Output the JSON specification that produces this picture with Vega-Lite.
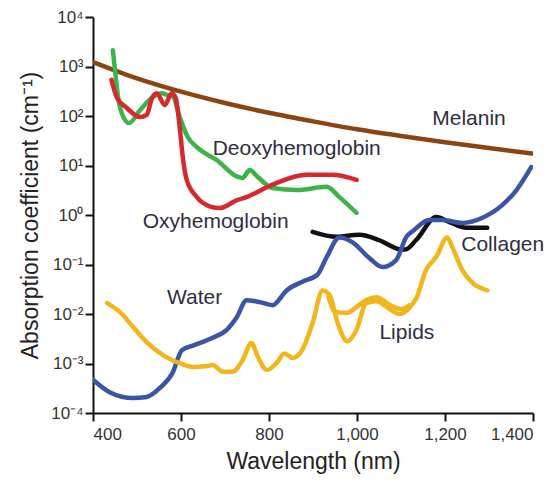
{
  "$schema": "https://vega.github.io/schema/vega-lite/v6.json",
  "width": 440,
  "height": 396,
  "autosize": {"type": "none"},
  "padding": {"left": 93, "top": 17, "right": 25, "bottom": 80},
  "background": "white",
  "config": {
    "view": {"stroke": null},
    "font": "Liberation Sans",
    "axis": {
      "grid": false,
      "domainColor": "#111",
      "domainWidth": 2,
      "tickColor": "#111",
      "tickWidth": 2,
      "tickSize": 8,
      "labelFontSize": 17,
      "labelColor": "#333",
      "labelFont": "Liberation Sans",
      "titleFont": "Liberation Sans",
      "titleFontSize": 23,
      "titleFontWeight": "normal",
      "titleColor": "#222"
    }
  },
  "datasets": {
    "curves": [
      {"s": "Melanin", "nm": 400, "v": 1230},
      {"s": "Melanin", "nm": 500, "v": 576},
      {"s": "Melanin", "nm": 600, "v": 310},
      {"s": "Melanin", "nm": 700, "v": 183},
      {"s": "Melanin", "nm": 800, "v": 116},
      {"s": "Melanin", "nm": 900, "v": 78},
      {"s": "Melanin", "nm": 1000, "v": 54},
      {"s": "Melanin", "nm": 1100, "v": 39.6},
      {"s": "Melanin", "nm": 1200, "v": 29.6},
      {"s": "Melanin", "nm": 1300, "v": 22.5},
      {"s": "Melanin", "nm": 1400, "v": 17.4},

      {"s": "Deoxyhemoglobin", "nm": 445, "v": 2140},
      {"s": "Deoxyhemoglobin", "nm": 451, "v": 700},
      {"s": "Deoxyhemoglobin", "nm": 457, "v": 240},
      {"s": "Deoxyhemoglobin", "nm": 466, "v": 110},
      {"s": "Deoxyhemoglobin", "nm": 482, "v": 72},
      {"s": "Deoxyhemoglobin", "nm": 507, "v": 132},
      {"s": "Deoxyhemoglobin", "nm": 536, "v": 240},
      {"s": "Deoxyhemoglobin", "nm": 556, "v": 288},
      {"s": "Deoxyhemoglobin", "nm": 570, "v": 263},
      {"s": "Deoxyhemoglobin", "nm": 581, "v": 250},
      {"s": "Deoxyhemoglobin", "nm": 597, "v": 95},
      {"s": "Deoxyhemoglobin", "nm": 615, "v": 38},
      {"s": "Deoxyhemoglobin", "nm": 636, "v": 23.4},
      {"s": "Deoxyhemoglobin", "nm": 681, "v": 12.9},
      {"s": "Deoxyhemoglobin", "nm": 729, "v": 5.9},
      {"s": "Deoxyhemoglobin", "nm": 740, "v": 5.6},
      {"s": "Deoxyhemoglobin", "nm": 756, "v": 8.1},
      {"s": "Deoxyhemoglobin", "nm": 774, "v": 5.9},
      {"s": "Deoxyhemoglobin", "nm": 808, "v": 3.5},
      {"s": "Deoxyhemoglobin", "nm": 863, "v": 3.2},
      {"s": "Deoxyhemoglobin", "nm": 931, "v": 3.7},
      {"s": "Deoxyhemoglobin", "nm": 960, "v": 2.3},
      {"s": "Deoxyhemoglobin", "nm": 999, "v": 1.1},

      {"s": "Oxyhemoglobin", "nm": 442, "v": 537},
      {"s": "Oxyhemoglobin", "nm": 454, "v": 240},
      {"s": "Oxyhemoglobin", "nm": 477, "v": 145},
      {"s": "Oxyhemoglobin", "nm": 507, "v": 95},
      {"s": "Oxyhemoglobin", "nm": 522, "v": 105},
      {"s": "Oxyhemoglobin", "nm": 534, "v": 229},
      {"s": "Oxyhemoglobin", "nm": 545, "v": 288},
      {"s": "Oxyhemoglobin", "nm": 563, "v": 166},
      {"s": "Oxyhemoglobin", "nm": 579, "v": 288},
      {"s": "Oxyhemoglobin", "nm": 588, "v": 229},
      {"s": "Oxyhemoglobin", "nm": 597, "v": 60},
      {"s": "Oxyhemoglobin", "nm": 604, "v": 14.8},
      {"s": "Oxyhemoglobin", "nm": 613, "v": 5.1},
      {"s": "Oxyhemoglobin", "nm": 636, "v": 2.3},
      {"s": "Oxyhemoglobin", "nm": 665, "v": 1.5},
      {"s": "Oxyhemoglobin", "nm": 688, "v": 1.38},
      {"s": "Oxyhemoglobin", "nm": 727, "v": 2.0},
      {"s": "Oxyhemoglobin", "nm": 749, "v": 2.3},
      {"s": "Oxyhemoglobin", "nm": 808, "v": 4.1},
      {"s": "Oxyhemoglobin", "nm": 885, "v": 6.5},
      {"s": "Oxyhemoglobin", "nm": 944, "v": 6.5},
      {"s": "Oxyhemoglobin", "nm": 999, "v": 5.1},

      {"s": "Collagen", "nm": 899, "v": 0.457},
      {"s": "Collagen", "nm": 953, "v": 0.363},
      {"s": "Collagen", "nm": 1005, "v": 0.398},
      {"s": "Collagen", "nm": 1051, "v": 0.309},
      {"s": "Collagen", "nm": 1096, "v": 0.204},
      {"s": "Collagen", "nm": 1110, "v": 0.2},
      {"s": "Collagen", "nm": 1135, "v": 0.316},
      {"s": "Collagen", "nm": 1180, "v": 0.91},
      {"s": "Collagen", "nm": 1210, "v": 0.72},
      {"s": "Collagen", "nm": 1248, "v": 0.55},
      {"s": "Collagen", "nm": 1296, "v": 0.55},

      {"s": "Water", "nm": 400, "v": 0.00047},
      {"s": "Water", "nm": 439, "v": 0.00026},
      {"s": "Water", "nm": 491, "v": 0.0002},
      {"s": "Water", "nm": 522, "v": 0.00021},
      {"s": "Water", "nm": 552, "v": 0.00032},
      {"s": "Water", "nm": 581, "v": 0.00065},
      {"s": "Water", "nm": 602, "v": 0.00186},
      {"s": "Water", "nm": 627, "v": 0.0023},
      {"s": "Water", "nm": 672, "v": 0.0033},
      {"s": "Water", "nm": 704, "v": 0.0048},
      {"s": "Water", "nm": 727, "v": 0.0087},
      {"s": "Water", "nm": 749, "v": 0.019},
      {"s": "Water", "nm": 779, "v": 0.0174},
      {"s": "Water", "nm": 808, "v": 0.0151},
      {"s": "Water", "nm": 840, "v": 0.03},
      {"s": "Water", "nm": 876, "v": 0.045},
      {"s": "Water", "nm": 910, "v": 0.062},
      {"s": "Water", "nm": 931, "v": 0.141},
      {"s": "Water", "nm": 960, "v": 0.35},
      {"s": "Water", "nm": 990, "v": 0.28},
      {"s": "Water", "nm": 1028, "v": 0.135},
      {"s": "Water", "nm": 1058, "v": 0.089},
      {"s": "Water", "nm": 1089, "v": 0.123},
      {"s": "Water", "nm": 1112, "v": 0.36},
      {"s": "Water", "nm": 1130, "v": 0.5},
      {"s": "Water", "nm": 1164, "v": 0.79},
      {"s": "Water", "nm": 1194, "v": 0.79},
      {"s": "Water", "nm": 1239, "v": 0.69},
      {"s": "Water", "nm": 1284, "v": 0.87},
      {"s": "Water", "nm": 1330, "v": 1.58},
      {"s": "Water", "nm": 1362, "v": 3.16},
      {"s": "Water", "nm": 1396, "v": 9.3},

      {"s": "Lipids", "nm": 432, "v": 0.0166},
      {"s": "Lipids", "nm": 461, "v": 0.011},
      {"s": "Lipids", "nm": 491, "v": 0.0055},
      {"s": "Lipids", "nm": 522, "v": 0.0027},
      {"s": "Lipids", "nm": 559, "v": 0.00148},
      {"s": "Lipids", "nm": 597, "v": 0.00102},
      {"s": "Lipids", "nm": 627, "v": 0.00085},
      {"s": "Lipids", "nm": 659, "v": 0.00089},
      {"s": "Lipids", "nm": 672, "v": 0.00093},
      {"s": "Lipids", "nm": 695, "v": 0.00068},
      {"s": "Lipids", "nm": 717, "v": 0.00068},
      {"s": "Lipids", "nm": 740, "v": 0.00117},
      {"s": "Lipids", "nm": 760, "v": 0.0026},
      {"s": "Lipids", "nm": 774, "v": 0.0014},
      {"s": "Lipids", "nm": 795, "v": 0.00074},
      {"s": "Lipids", "nm": 817, "v": 0.00102},
      {"s": "Lipids", "nm": 835, "v": 0.0016},
      {"s": "Lipids", "nm": 854, "v": 0.0013},
      {"s": "Lipids", "nm": 876, "v": 0.0019},
      {"s": "Lipids", "nm": 899, "v": 0.0066},
      {"s": "Lipids", "nm": 922, "v": 0.03},
      {"s": "Lipids", "nm": 938, "v": 0.024},
      {"s": "Lipids", "nm": 956, "v": 0.0066},
      {"s": "Lipids", "nm": 978, "v": 0.0028},
      {"s": "Lipids", "nm": 999, "v": 0.0048},
      {"s": "Lipids", "nm": 1021, "v": 0.0166},
      {"s": "Lipids", "nm": 1044, "v": 0.018},
      {"s": "Lipids", "nm": 1074, "v": 0.0126},
      {"s": "Lipids", "nm": 1096, "v": 0.01},
      {"s": "Lipids", "nm": 1119, "v": 0.0132},
      {"s": "Lipids", "nm": 1135, "v": 0.021},
      {"s": "Lipids", "nm": 1157, "v": 0.078},
      {"s": "Lipids", "nm": 1180, "v": 0.141},
      {"s": "Lipids", "nm": 1205, "v": 0.35},
      {"s": "Lipids", "nm": 1217, "v": 0.22},
      {"s": "Lipids", "nm": 1239, "v": 0.078},
      {"s": "Lipids", "nm": 1262, "v": 0.043},
      {"s": "Lipids", "nm": 1296, "v": 0.03},

      {"s": "Lipids (upper)", "nm": 935, "v": 0.0224},
      {"s": "Lipids (upper)", "nm": 950, "v": 0.0112},
      {"s": "Lipids (upper)", "nm": 976, "v": 0.0105},
      {"s": "Lipids (upper)", "nm": 1000, "v": 0.0141},
      {"s": "Lipids (upper)", "nm": 1020, "v": 0.019},
      {"s": "Lipids (upper)", "nm": 1045, "v": 0.0219},
      {"s": "Lipids (upper)", "nm": 1075, "v": 0.0151},
      {"s": "Lipids (upper)", "nm": 1100, "v": 0.0126},
      {"s": "Lipids (upper)", "nm": 1120, "v": 0.0151}
    ],
    "labels": [
      {"t": "Melanin", "nm": 1171, "v": 87},
      {"t": "Deoxyhemoglobin", "nm": 672, "v": 21.5},
      {"t": "Oxyhemoglobin", "nm": 513, "v": 0.72},
      {"t": "Collagen", "nm": 1237, "v": 0.245},
      {"t": "Water", "nm": 568, "v": 0.021},
      {"t": "Lipids", "nm": 1051, "v": 0.0042}
    ]
  },
  "layer": [
    {
      "data": {"name": "curves"},
      "mark": {"type": "line", "strokeWidth": 4.5, "interpolate": "monotone", "strokeCap": "round", "strokeJoin": "round", "clip": true},
      "encoding": {
        "x": {
          "field": "nm", "type": "quantitative",
          "scale": {"domain": [400, 1400], "nice": false, "zero": false},
          "axis": {"values": [400, 600, 800, 1000, 1200, 1400], "format": ",d", "title": "Wavelength (nm)", "labelPadding": 5, "titlePadding": 8}
        },
        "y": {
          "field": "v", "type": "quantitative",
          "scale": {"type": "log", "domain": [0.0001, 10000], "nice": false},
          "axis": {
            "values": [0.0001, 0.001, 0.01, 0.1, 1, 10, 100, 1000, 10000],
            "labelExpr": "datum.value > 5000 ? '10⁴' : datum.value > 500 ? '10³' : datum.value > 50 ? '10²' : datum.value > 5 ? '10¹' : datum.value > 0.5 ? '10⁰' : datum.value > 0.05 ? '10⁻¹' : datum.value > 0.005 ? '10⁻²' : datum.value > 0.0005 ? '10⁻³' : '10⁻⁴'",
            "title": "Absorption coefficient (cm⁻¹)",
            "labelPadding": 2,
            "titlePadding": 8
          }
        },
        "color": {
          "field": "s", "type": "nominal",
          "scale": {
            "domain": ["Melanin", "Deoxyhemoglobin", "Oxyhemoglobin", "Collagen", "Water", "Lipids", "Lipids (upper)"],
            "range": ["#8b4513", "#3cb44a", "#d42a2f", "#111111", "#3a55a8", "#f2b51c", "#f2b51c"]
          },
          "legend": null
        }
      }
    },
    {
      "data": {"name": "labels"},
      "mark": {"type": "text", "align": "left", "baseline": "middle", "fontSize": 21, "color": "#2e2e40", "font": "Liberation Sans"},
      "encoding": {
        "x": {"field": "nm", "type": "quantitative"},
        "y": {"field": "v", "type": "quantitative"},
        "text": {"field": "t"}
      }
    }
  ]
}
